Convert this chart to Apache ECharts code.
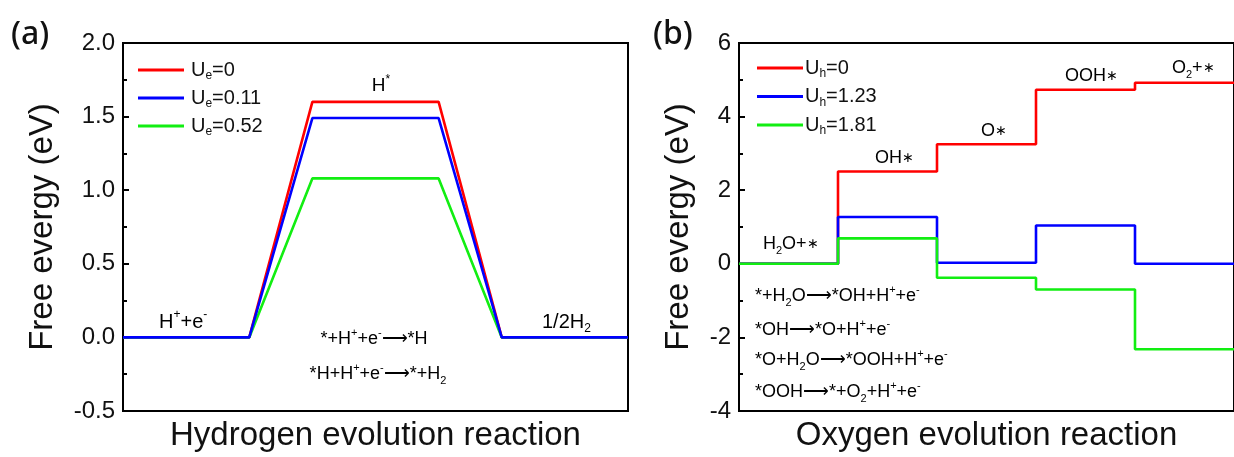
<!DOCTYPE html>
<html><head><meta charset="utf-8">
<script src="https://cdn.jsdelivr.net/npm/echarts@6/dist/echarts.min.js"></script>
<style>html,body{margin:0;padding:0;background:#fff}#c{width:1234px;height:457px}</style>
</head><body><div id="c"></div>
<script>
// ---------- (a) Hydrogen evolution reaction ----------
const herStart = [0, 3, 6];          // reaction-coordinate start of each state
const herEnd = [2, 5, 8];            // reaction-coordinate end of each state
const herNames = ['Ue=0', 'Ue=0.11', 'Ue=0.52'];
const herUe0 = [0, 1.60, 0];
const herUe011 = [0, 1.49, 0];
const herUe052 = [0, 1.08, 0];
const herYTicks = { min: -0.5, max: 2.0, interval: 0.5 };

// ---------- (b) Oxygen evolution reaction ----------
const oerStates = ['H2O+*', 'OH*', 'O*', 'OOH*', 'O2+*'];
const oerNames = ['Uh=0', 'Uh=1.23', 'Uh=1.81'];
const oerUh0 = [0, 2.51, 3.25, 4.73, 4.92];
const oerUh123 = [0, 1.27, 0.03, 1.04, 0];
const oerUh181 = [0, 0.69, -0.38, -0.70, -2.32];
const oerYTicks = { min: -4, max: 6, interval: 2 };

const RED = '#ff0000', BLUE = '#0000ff', GREEN = '#12ee12';
const F = '"Liberation Sans", Arial, sans-serif';

function herPoints(levels) {
  const pts = [];
  levels.forEach((v, i) => { pts.push([herStart[i], v]); pts.push([herEnd[i], v]); });
  return pts;
}
function oerPoints(levels) {
  const pts = levels.map((v, i) => [i, v]);
  pts.push([levels.length, levels[levels.length - 1]]);
  return pts;
}
function richSet(fs) {
  return {
    n: { fontSize: fs, fontFamily: F, color: '#111', lineHeight: fs + 6 },
    st: { fontSize: Math.round(fs * 0.8), fontFamily: F, color: '#111', lineHeight: fs + 6 },
    sup: { fontSize: Math.round(fs * 0.62), fontFamily: F, color: '#111', lineHeight: 10, verticalAlign: 'top' },
    sub: { fontSize: Math.round(fs * 0.62), fontFamily: F, color: '#111', lineHeight: 10, verticalAlign: 'bottom' }
  };
}
function txt(x, y, text, fs, align) {
  return { type: 'text', x: x, y: y, z: 100,
    style: { text: text, rich: richSet(fs), align: align || 'left', verticalAlign: 'middle' } };
}

const legendFmt = {
  'Ue=0': '{u|U}{s|e}{u|=0}', 'Ue=0.11': '{u|U}{s|e}{u|=0.11}', 'Ue=0.52': '{u|U}{s|e}{u|=0.52}',
  'Uh=0': '{u|U}{s|h}{u|=0}', 'Uh=1.23': '{u|U}{s|h}{u|=1.23}', 'Uh=1.81': '{u|U}{s|h}{u|=1.81}'
};
const legendRich = {
  u: { fontSize: 20, fontFamily: F, color: '#111', lineHeight: 24 },
  s: { fontSize: 12, fontFamily: F, color: '#111', lineHeight: 10, verticalAlign: 'bottom' }
};

function yAxisCfg(grid, ticks, dec, gap) {
  return {
    gridIndex: grid, type: 'value', min: ticks.min, max: ticks.max, interval: ticks.interval,
    name: 'Free evergy (eV)', nameLocation: 'middle', nameGap: gap,
    nameTextStyle: { fontSize: 33, fontFamily: F, color: '#111' },
    axisLine: { show: true, lineStyle: { color: '#000', width: 2 } },
    axisTick: { show: true, inside: true, length: 6, lineStyle: { color: '#000', width: 2 } },
    minorTick: { show: true, splitNumber: 2, length: 4, lineStyle: { color: '#000', width: 2 } },
    axisLabel: { fontSize: 24, fontFamily: F, color: '#111', margin: 8,
      formatter: v => v.toFixed(dec) },
    splitLine: { show: false }
  };
}
function xAxisCfg(grid, max, name) {
  return {
    gridIndex: grid, type: 'value', min: 0, max: max,
    name: name, nameLocation: 'middle', nameGap: 8,
    nameTextStyle: { fontSize: 33, fontFamily: F, color: '#111', verticalAlign: 'top' },
    axisLine: { show: true, onZero: false, lineStyle: { color: '#000', width: 2 } },
    axisTick: { show: false }, axisLabel: { show: false }, splitLine: { show: false }
  };
}
function lineSeries(name, data, color, xi, step) {
  const s = { name: name, type: 'line', xAxisIndex: xi, yAxisIndex: xi, data: data,
    symbol: 'none', showSymbol: false, color: color,
    lineStyle: { color: color, width: 2.6 }, animation: false };
  if (step) s.step = 'end';
  return s;
}

const chart = echarts.init(document.getElementById('c'), null, { renderer: 'canvas' });
chart.setOption({
  animation: false,
  backgroundColor: '#fff',
  grid: [
    { left: 123, top: 43, width: 505, height: 370, show: true, borderColor: '#000', borderWidth: 2 },
    { left: 739, top: 43, width: 505, height: 369, show: true, borderColor: '#000', borderWidth: 2 }
  ],
  xAxis: [xAxisCfg(0, herEnd[herEnd.length - 1], 'Hydrogen evolution reaction'),
          xAxisCfg(1, oerStates.length, 'Oxygen evolution reaction')],
  yAxis: [yAxisCfg(0, herYTicks, 1, 64), yAxisCfg(1, oerYTicks, 0, 44)],
  legend: [
    { data: herNames, orient: 'vertical', left: 138, top: 60, itemWidth: 46, itemHeight: 3,
      itemGap: 6, icon: 'rect', padding: 0,
      formatter: n => legendFmt[n], textStyle: { rich: legendRich, padding: [0, 0, 0, 2] } },
    { data: oerNames, orient: 'vertical', left: 757, top: 58, itemWidth: 46, itemHeight: 3,
      itemGap: 6.5, icon: 'rect', padding: 0,
      formatter: n => legendFmt[n], textStyle: { rich: legendRich, padding: [0, 0, 0, -3] } }
  ],
  series: [
    lineSeries(herNames[0], herPoints(herUe0), RED, 0, false),
    lineSeries(herNames[2], herPoints(herUe052), GREEN, 0, false),
    lineSeries(herNames[1], herPoints(herUe011), BLUE, 0, false),
    lineSeries(oerNames[0], oerPoints(oerUh0), RED, 1, true),
    lineSeries(oerNames[1], oerPoints(oerUh123), BLUE, 1, true),
    lineSeries(oerNames[2], oerPoints(oerUh181), GREEN, 1, true)
  ],
  graphic: [
    { type: 'text', x: 11, y: 35, style: { text: '(a)', fontSize: 32, fontWeight: 500, fontFamily: '"Noto Sans", "Open Sans", sans-serif', fill: '#111', verticalAlign: 'middle' } },
    { type: 'text', x: 653, y: 35, style: { text: '(b)', fontSize: 32, fontWeight: 500, fontFamily: '"Noto Sans", "Open Sans", sans-serif', fill: '#111', verticalAlign: 'middle' } },
    // (a) annotations
    txt(381, 86, '{n|H}{sup|*}', 19, 'center'),
    txt(159, 322, '{n|H}{sup|+}{n|+e}{sup|-}', 20),
    txt(542, 322, '{n|1/2H}{sub|2}', 20),
    txt(374, 339, '{n|*+H}{sup|+}{n|+e}{sup|-}{n|⟶*H}', 18, 'center'),
    txt(378, 374, '{n|*H+H}{sup|+}{n|+e}{sup|-}{n|⟶*+H}{sub|2}', 18, 'center'),
    // (b) annotations
    txt(763, 244, '{n|H}{sub|2}{n|O+}{st|∗}', 18),
    txt(875, 158, '{n|OH}{st|∗}', 18),
    txt(981, 131, '{n|O}{st|∗}', 18),
    txt(1065, 76, '{n|OOH}{st|∗}', 18),
    txt(1172, 68, '{n|O}{sub|2}{n|+}{st|∗}', 18),
    txt(755, 296, '{n|*+H}{sub|2}{n|O⟶*OH+H}{sup|+}{n|+e}{sup|-}', 18),
    txt(755, 330, '{n|*OH⟶*O+H}{sup|+}{n|+e}{sup|-}', 18),
    txt(755, 360, '{n|*O+H}{sub|2}{n|O⟶*OOH+H}{sup|+}{n|+e}{sup|-}', 18),
    txt(755, 392, '{n|*OOH⟶*+O}{sub|2}{n|+H}{sup|+}{n|+e}{sup|-}', 18)
  ]
});
</script>
</body></html>
